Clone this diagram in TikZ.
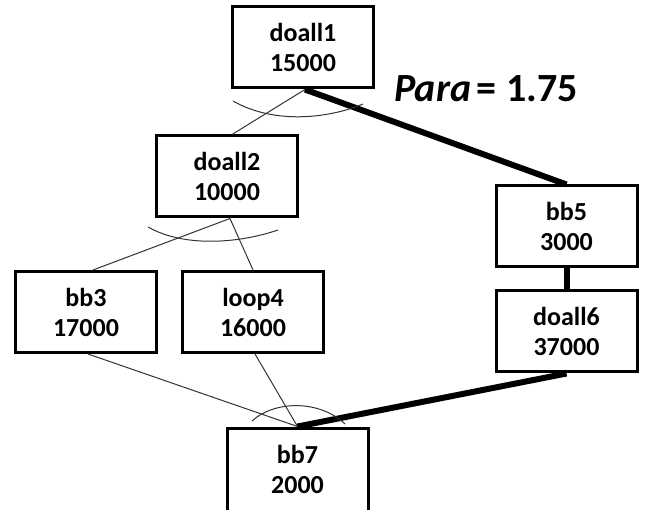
\documentclass[tikz,border=0pt]{standalone}
\usepackage{fontspec}
\setmainfont{Carlito}
\begin{document}
\begin{tikzpicture}[x=1pt, y=-1pt,
  block/.style={draw=black, line width=3pt, fill=white, inner sep=0pt,
    minimum width=141pt, minimum height=81pt, align=center,
    font=\fontsize{26}{30}\selectfont\bfseries},
  thin/.style={draw=black!80, line width=1pt},
  heavy/.style={draw=black, line width=6pt}]
  % canvas
  \useasboundingbox (0,0) rectangle (645,510);
  \begin{scope}
  \clip (0,0) rectangle (645,510);

  % blocks
  \node[block] (d1) at (303,47.5)  {doall1\\15000};
  \node[block] (d2) at (227,176.5) {doall2\\10000};
  \node[block] (b3) at (86,312)    {bb3\\17000};
  \node[block] (l4) at (253,312)   {loop4\\16000};
  \node[block] (b5) at (566.5,226.5) {bb5\\3000};
  \node[block] (d6) at (566.5,331.5) {doall6\\37000};
  \node[block, minimum height=100pt, text depth=18pt] (b7) at (297.5,478) {bb7\\2000};

  % light edges
  \draw[thin] ([xshift=2pt]d1.south) -- ([xshift=5pt]d2.north);
  \draw[thin] ([xshift=3pt]d2.south) -- ([xshift=7pt]b3.north);
  \draw[thin] ([xshift=3pt]d2.south) -- (l4.north);
  \draw[thin] ([xshift=2pt]b3.south) -- (b7.north);
  \draw[thin] ([xshift=2pt]l4.south) -- (b7.north);

  % heavy (critical) path
  \draw[heavy] ([xshift=2pt]d1.south) -- (b5.north);
  \draw[heavy] (b5.south) -- (d6.north);
  \draw[heavy] (d6.south) -- (b7.north);

  % arcs across the fan-out / fan-in edges
  \draw[thin] (233,101) .. controls (275,125) and (330,118) .. (363,104);
  \draw[thin] (148,227) .. controls (185,248) and (240,243) .. (278,230);
  \draw[thin] (252,421) .. controls (275,400) and (320,400) .. (345,424);
  \end{scope}

  \node[anchor=base west, inner sep=0pt, font=\fontsize{40}{46}\selectfont\bfseries]
    (para) at (394,102) {\textit{Para}\hspace{5pt}=\hspace{10pt}1.75};
\end{tikzpicture}
\end{document}
